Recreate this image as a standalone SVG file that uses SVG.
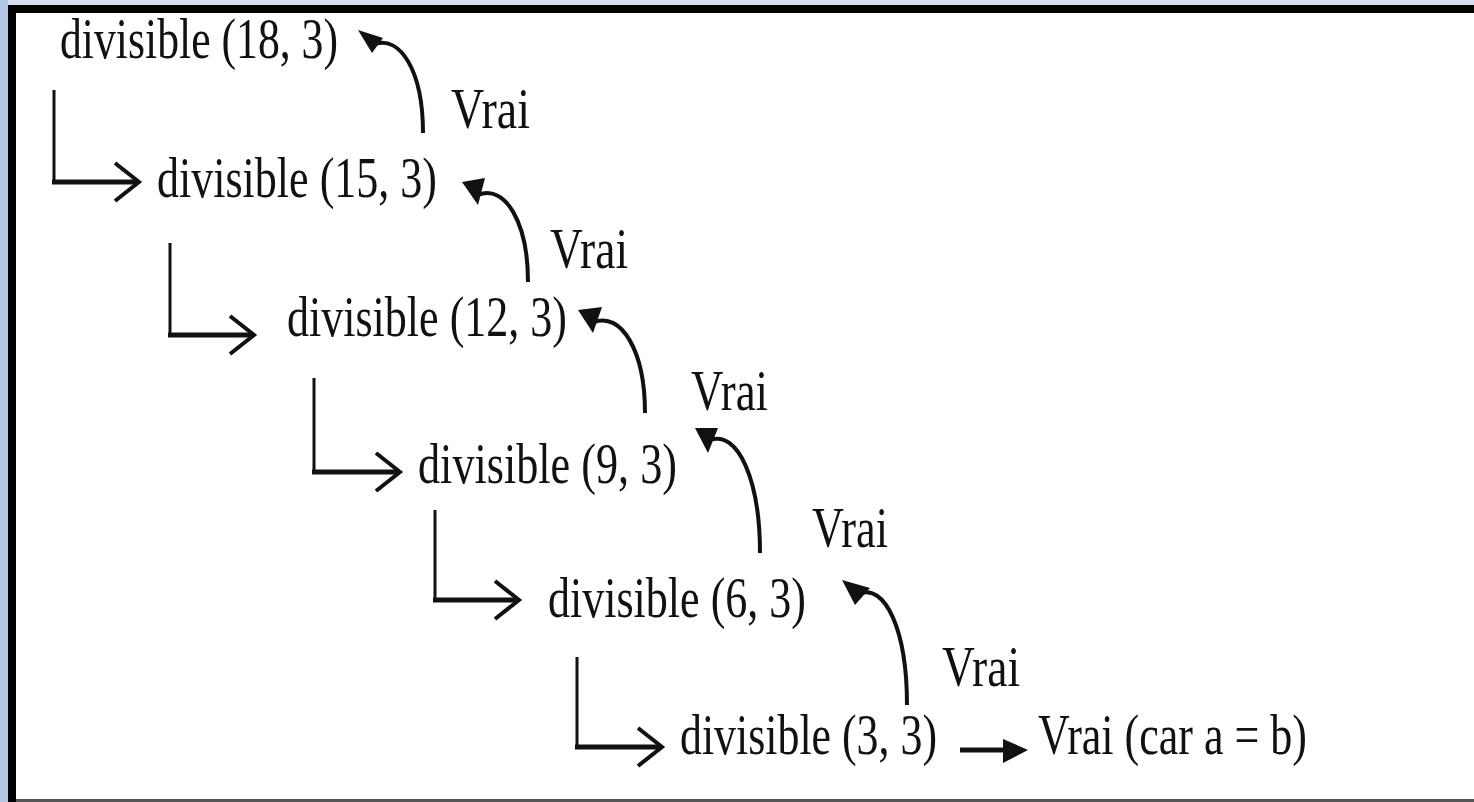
<svg xmlns="http://www.w3.org/2000/svg" width="1474" height="802" viewBox="0 0 1474 802">
<style>
.t{font-family:"Liberation Serif","Times New Roman",serif;font-size:56px;fill:#111}
.v{stroke:#111;stroke-width:3;fill:none}
.h{stroke:#111;stroke-width:5;fill:none}
.chev{stroke:#111;stroke-width:4;fill:none;stroke-linejoin:miter}
.cur{stroke:#111;stroke-width:4;fill:none}
.head{fill:#111}
</style>
<rect x="0" y="0" width="1474" height="802" fill="#d3dff0"/>
<rect x="0" y="0" width="8" height="802" fill="#b2c5e2"/>
<rect x="8" y="5" width="1466" height="797" fill="#fff"/>
<rect x="8" y="5" width="1466" height="8" fill="#000"/>
<rect x="8" y="5" width="8" height="797" fill="#000"/>
<rect x="16" y="799" width="1458" height="3" fill="#555"/>

<g id="n18"><text class="t" x="60" y="58" textLength="278" lengthAdjust="spacingAndGlyphs">divisible (18, 3)</text></g>
<g id="n15"><text class="t" x="157" y="197" textLength="280" lengthAdjust="spacingAndGlyphs">divisible (15, 3)</text></g>
<g id="n12"><text class="t" x="287" y="336" textLength="280" lengthAdjust="spacingAndGlyphs">divisible (12, 3)</text></g>
<g id="n9"><text class="t" x="418" y="483" textLength="259" lengthAdjust="spacingAndGlyphs">divisible (9, 3)</text></g>
<g id="n6"><text class="t" x="548" y="617" textLength="258" lengthAdjust="spacingAndGlyphs">divisible (6, 3)</text></g>
<g id="n3"><text class="t" x="680" y="754" textLength="257" lengthAdjust="spacingAndGlyphs">divisible (3, 3)</text></g>
<g id="result"><text class="t" x="1038" y="754" textLength="269" lengthAdjust="spacingAndGlyphs">Vrai (car a = b)</text></g>

<g id="connectors">
  <path class="v" d="M54 90 V183"/><path class="h" d="M52 182 H138"/><path class="chev" d="M115 163 L139 182 L115 201"/>
  <path class="v" d="M170 243 V336"/><path class="h" d="M168 335 H253"/><path class="chev" d="M230 316 L254 335 L230 354"/>
  <path class="v" d="M314 378 V473"/><path class="h" d="M312 472 H399"/><path class="chev" d="M376 453 L400 472 L376 491"/>
  <path class="v" d="M435 510 V601"/><path class="h" d="M433 600 H518"/><path class="chev" d="M495 581 L519 600 L495 619"/>
  <path class="v" d="M577 657 V748"/><path class="h" d="M575 747 H661"/><path class="chev" d="M638 728 L662 747 L638 766"/>

  <path class="cur" d="M375 44 C400 36 423 70 423 133"/><polygon class="head" points="358,30 383,38 372,53"/>
  <path class="cur" d="M478 195 C505 184 528 222 528 282"/><polygon class="head" points="462,182 485,178 478,205"/>
  <path class="cur" d="M594 322 C621 312 645 350 645 413"/><polygon class="head" points="578,310 602,307 593,333"/>
  <path class="cur" d="M710 440 C738 430 760 480 760 553"/><polygon class="head" points="695,428 718,428 708,453"/>
  <path class="cur" d="M858 594 C885 582 907 630 907 705"/><polygon class="head" points="842,580 870,588 855,605"/>

  <path class="h" d="M960 750 H1008"/><polygon class="head" points="1003,739 1028,750 1003,763"/>
</g>

<g id="labels">
  <text class="t" x="451" y="128" textLength="79" lengthAdjust="spacingAndGlyphs">Vrai</text>
  <text class="t" x="550" y="268" textLength="78" lengthAdjust="spacingAndGlyphs">Vrai</text>
  <text class="t" x="691" y="410" textLength="77" lengthAdjust="spacingAndGlyphs">Vrai</text>
  <text class="t" x="812" y="547" textLength="76" lengthAdjust="spacingAndGlyphs">Vrai</text>
  <text class="t" x="942" y="686" textLength="78" lengthAdjust="spacingAndGlyphs">Vrai</text>
</g>
</svg>
